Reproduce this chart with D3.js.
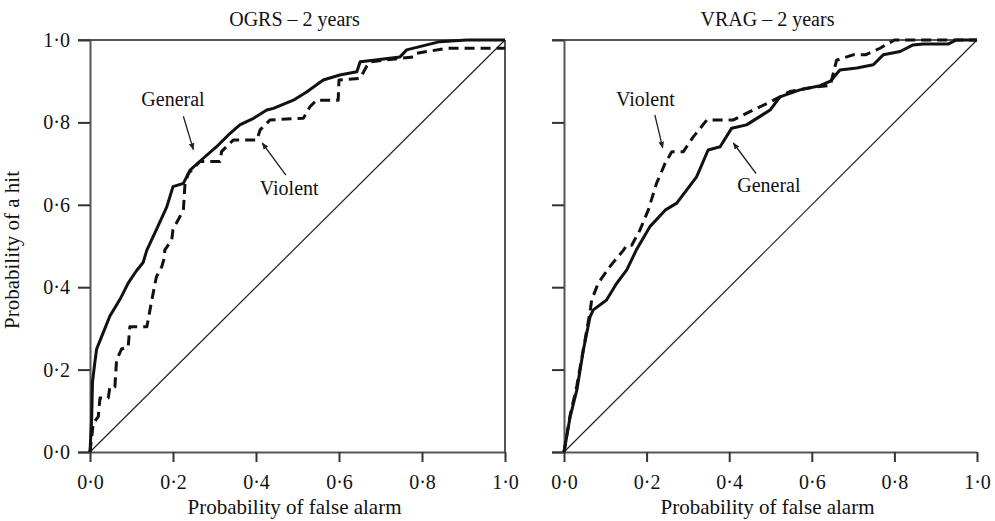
<!DOCTYPE html>
<html>
<head>
<meta charset="utf-8">
<script src="https://cdn.jsdelivr.net/npm/d3@7"></script>
<style>
  body { margin: 0; background: #fff; }
  svg { display: block; }
  text { font-family: "Liberation Serif", "Times New Roman", serif; fill: #111; }
</style>
</head>
<body>
<svg id="chart" width="995" height="521"></svg>
<script>
// ---- data ----
const panelTitles = ["OGRS – 2 years", "VRAG – 2 years"];
const xAxisTitle = "Probability of false alarm";
const yAxisTitle = "Probability of a hit";
const tickValues = [0, 0.2, 0.4, 0.6, 0.8, 1.0];

const ogrsGeneral = [[0,0],[0.004,0.08],[0.006,0.17],[0.012,0.22],[0.016,0.25],[0.028,0.28],[0.048,0.33],[0.072,0.37],[0.092,0.41],[0.112,0.44],[0.128,0.46],[0.137,0.49],[0.16,0.54],[0.185,0.595],[0.2,0.644],[0.225,0.652],[0.241,0.684],[0.273,0.713],[0.305,0.741],[0.337,0.773],[0.361,0.794],[0.394,0.81],[0.426,0.83],[0.442,0.834],[0.49,0.854],[0.522,0.874],[0.562,0.903],[0.602,0.915],[0.643,0.923],[0.651,0.947],[0.683,0.951],[0.747,0.959],[0.763,0.976],[0.843,0.996],[0.908,1.0],[1.0,1.0]];
const ogrsViolent = [[0,0],[0.008,0.07],[0.02,0.086],[0.024,0.131],[0.044,0.131],[0.048,0.158],[0.06,0.158],[0.064,0.223],[0.076,0.25],[0.092,0.255],[0.096,0.304],[0.137,0.304],[0.149,0.369],[0.157,0.41],[0.16,0.425],[0.173,0.45],[0.18,0.474],[0.18,0.49],[0.197,0.515],[0.2,0.54],[0.225,0.587],[0.229,0.652],[0.237,0.676],[0.265,0.705],[0.313,0.705],[0.317,0.729],[0.345,0.757],[0.402,0.757],[0.41,0.782],[0.434,0.806],[0.514,0.81],[0.53,0.838],[0.546,0.854],[0.598,0.854],[0.6,0.903],[0.651,0.907],[0.667,0.937],[0.675,0.947],[0.779,0.959],[0.783,0.967],[0.86,0.98],[1.0,0.98]];
const vragGeneral = [[0,0],[0.015,0.086],[0.031,0.15],[0.047,0.248],[0.063,0.328],[0.071,0.345],[0.103,0.369],[0.128,0.41],[0.152,0.442],[0.175,0.49],[0.208,0.547],[0.245,0.587],[0.273,0.604],[0.321,0.668],[0.349,0.733],[0.378,0.741],[0.406,0.786],[0.442,0.794],[0.499,0.83],[0.523,0.862],[0.571,0.879],[0.62,0.889],[0.645,0.9],[0.668,0.927],[0.709,0.932],[0.749,0.94],[0.773,0.964],[0.814,0.972],[0.845,0.988],[0.87,0.99],[0.93,0.99],[0.95,1.0],[1,1]];
const vragViolent = [[0,0],[0.015,0.09],[0.031,0.16],[0.047,0.25],[0.063,0.34],[0.067,0.369],[0.083,0.41],[0.111,0.45],[0.144,0.49],[0.152,0.502],[0.164,0.502],[0.184,0.539],[0.204,0.587],[0.224,0.652],[0.245,0.701],[0.261,0.729],[0.289,0.729],[0.313,0.765],[0.346,0.806],[0.41,0.806],[0.458,0.83],[0.5,0.85],[0.547,0.875],[0.6,0.885],[0.645,0.89],[0.66,0.951],[0.7,0.964],[0.73,0.964],[0.765,0.98],[0.8,1.0],[1,1]];
const chance = [[0,0],[1,1]];

// annotations: label, text position (data), arrow from/to (data)
const ogrsNotes = [
  {label: "General", tx: 0.2, ty: 0.84, from: [0.225, 0.815], to: [0.249, 0.734]},
  {label: "Violent", tx: 0.48, ty: 0.625, from: [0.472, 0.672], to: [0.415, 0.75]}
];
const vragNotes = [
  {label: "Violent", tx: 0.197, ty: 0.84, from: [0.22, 0.818], to: [0.239, 0.738]},
  {label: "General", tx: 0.496, ty: 0.63, from: [0.465, 0.676], to: [0.41, 0.75]}
];

// ---- layout ----
const svg = d3.select("#chart");
const H = {top: 40, bottom: 452};
const panels = [
  {left: 90, right: 505, title: panelTitles[0], general: ogrsGeneral, violent: ogrsViolent, notes: ogrsNotes, labels: true, rightBorder: true},
  {left: 564, right: 977, title: panelTitles[1], general: vragGeneral, violent: vragViolent, notes: vragNotes, labels: false, rightBorder: false}
];
const fmt = v => d3.format(".1f")(v).replace(".", "·");
const axisColor = "#555";

svg.append("defs").append("marker")
  .attr("id", "arrow").attr("viewBox", "0 0 10 10")
  .attr("refX", 9).attr("refY", 5)
  .attr("markerWidth", 7).attr("markerHeight", 7)
  .attr("markerUnits", "userSpaceOnUse")
  .attr("orient", "auto")
  .append("path").attr("d", "M0,1 L10,5 L0,9 Z").attr("fill", "#222");

panels.forEach(p => {
  const x = d3.scaleLinear().domain([0, 1]).range([p.left, p.right]);
  const y = d3.scaleLinear().domain([0, 1]).range([H.bottom, H.top]);
  const g = svg.append("g");

  // top frame line
  g.append("line").attr("x1", p.left - 12).attr("x2", p.right)
    .attr("y1", y(1)).attr("y2", y(1))
    .attr("stroke", axisColor).attr("stroke-width", 2);
  if (p.rightBorder) {
    g.append("line").attr("x1", x(1)).attr("x2", x(1))
      .attr("y1", y(1)).attr("y2", y(0))
      .attr("stroke", axisColor).attr("stroke-width", 2);
  }

  // x axis
  const xa = g.append("g").attr("transform", `translate(0,${y(0)})`)
    .call(d3.axisBottom(x).tickValues(tickValues).tickFormat(fmt).tickSize(10).tickPadding(13).tickSizeOuter(0));
  xa.select(".domain").attr("stroke", axisColor).attr("stroke-width", 2)
    .attr("d", `M${p.left - 12},0.5H${p.right}`);
  xa.selectAll(".tick line").attr("stroke", "#333").attr("stroke-width", 2);
  xa.selectAll(".tick text").attr("font-size", 20).attr("font-family", "Liberation Serif").attr("fill", "#111");

  // y axis
  const ya = g.append("g").attr("transform", `translate(${x(0)},0)`)
    .call(d3.axisLeft(y).tickValues(tickValues).tickFormat(p.labels ? fmt : "").tickSize(12).tickPadding(8).tickSizeOuter(0));
  ya.select(".domain").attr("stroke", axisColor).attr("stroke-width", 2);
  ya.selectAll(".tick line").attr("stroke", "#333").attr("stroke-width", 2);
  ya.selectAll(".tick text").attr("font-size", 20).attr("font-family", "Liberation Serif").attr("fill", "#111");

  // chance diagonal
  const line = d3.line().x(d => x(d[0])).y(d => y(d[1]));
  g.append("path").datum(chance).attr("d", line)
    .attr("fill", "none").attr("stroke", "#222").attr("stroke-width", 1.2);

  // curves
  g.append("path").datum(p.violent).attr("d", line)
    .attr("fill", "none").attr("stroke", "#111").attr("stroke-width", 3)
    .attr("stroke-dasharray", "10,6").attr("stroke-linejoin", "round");
  g.append("path").datum(p.general).attr("d", line)
    .attr("fill", "none").attr("stroke", "#111").attr("stroke-width", 3)
    .attr("stroke-linejoin", "round");

  // annotations
  p.notes.forEach(n => {
    g.append("text").attr("x", x(n.tx)).attr("y", y(n.ty))
      .attr("text-anchor", "middle").attr("font-size", 20).text(n.label);
    g.append("line")
      .attr("x1", x(n.from[0])).attr("y1", y(n.from[1]))
      .attr("x2", x(n.to[0])).attr("y2", y(n.to[1]))
      .attr("stroke", "#222").attr("stroke-width", 1.3)
      .attr("marker-end", "url(#arrow)");
  });

  // title
  g.append("text").attr("x", (p.left + p.right) / 2 - 3).attr("y", 26)
    .attr("text-anchor", "middle").attr("font-size", 20).text(p.title);
  // x axis title
  g.append("text").attr("x", (p.left + p.right) / 2 - 3).attr("y", 514)
    .attr("text-anchor", "middle").attr("font-size", 21).text(xAxisTitle);
});

// y axis title
svg.append("text").attr("transform", "translate(19,250) rotate(-90)")
  .attr("text-anchor", "middle").attr("font-size", 21).text(yAxisTitle);
</script>
</body>
</html>
